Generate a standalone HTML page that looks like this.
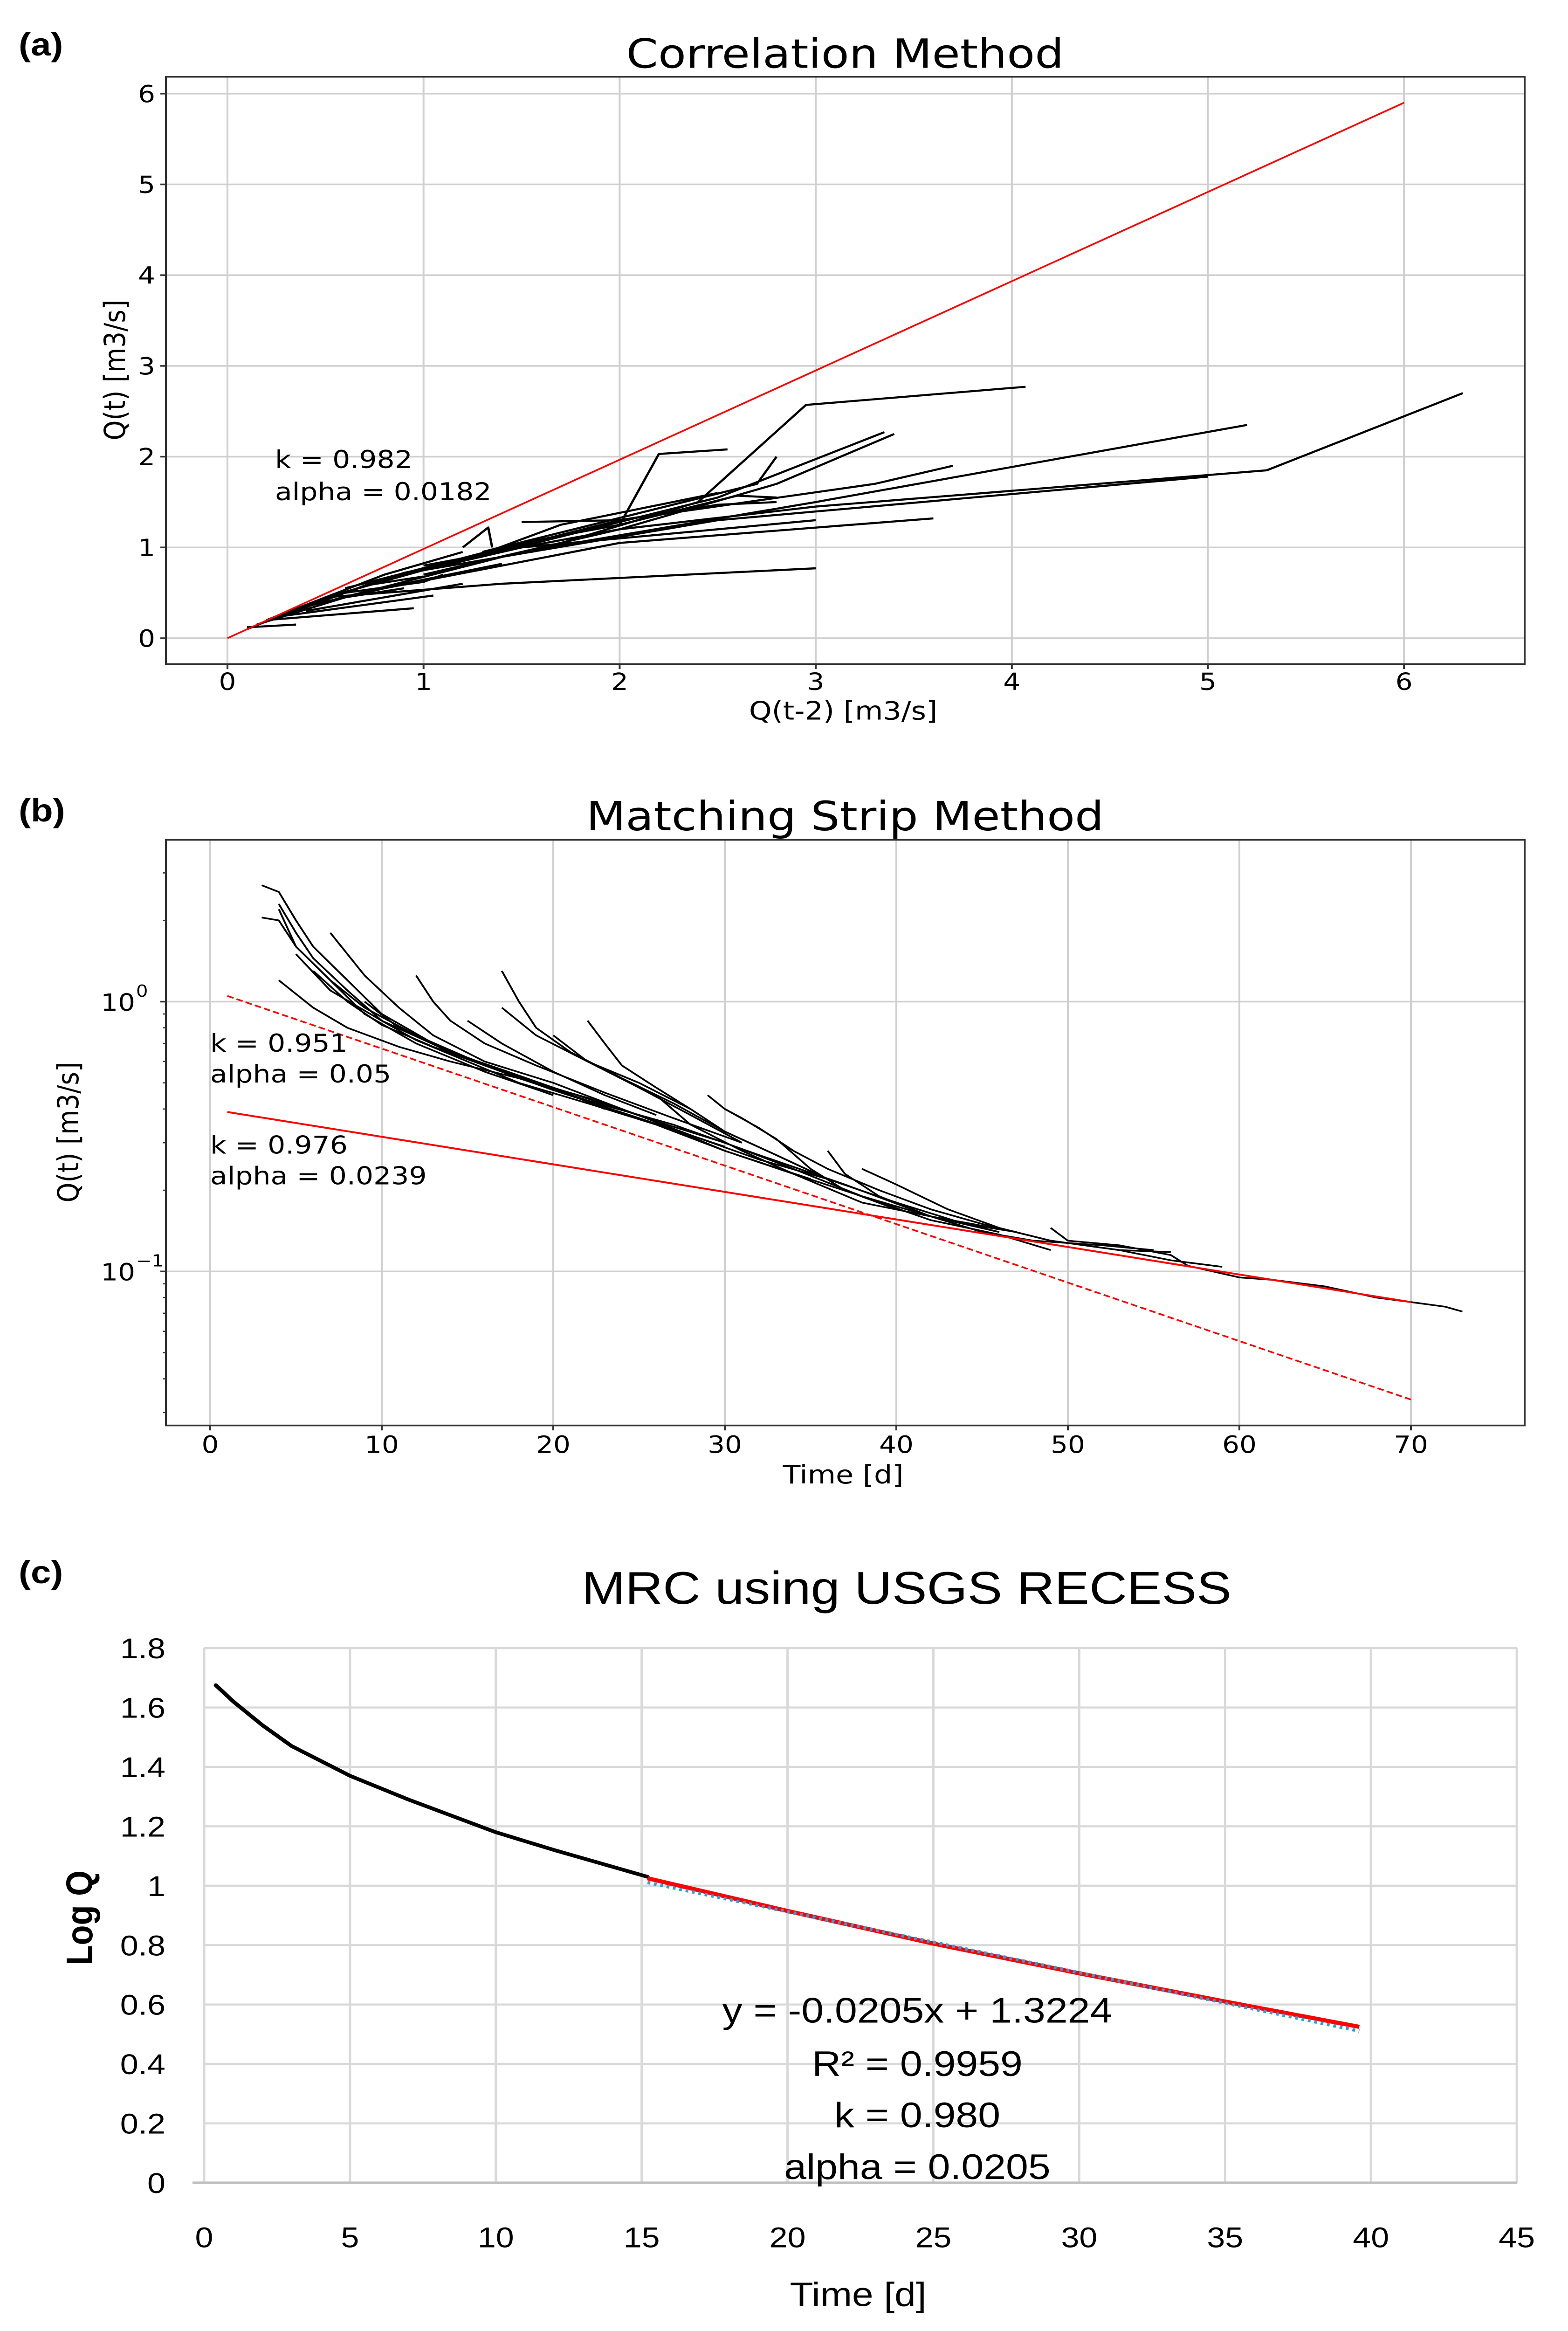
<!DOCTYPE html>
<html><head><meta charset="utf-8">
<style>
html,body{margin:0;padding:0;background:#fff;width:100%;height:100%;overflow:hidden;}
svg{display:block;position:absolute;left:0;top:0;width:100vw;height:100vh;}
text{font-family:"DejaVu Sans","Liberation Sans",sans-serif;fill:#000;}
.cal{font-family:"Liberation Sans",sans-serif;}
</style></head>
<body>
<svg id="fig" viewBox="0 0 3364 5676" preserveAspectRatio="none" xmlns="http://www.w3.org/2000/svg">
<rect width="3364" height="5676" fill="#fff"/>
<g id="pa"></g>
<g id="pb"></g>
<g id="pc"></g>
</svg>
<script>
// ---------- Panel (a) data ----------
const aXTicks = [0,1,2,3,4,5,6];
const aYTicks = [0,1,2,3,4,5,6];
const aFitLine = [[0,0],[6,5.9]];
const aSegments = [
 [[0.1,0.1],[0.5,0.45],[1,0.75],[1.5,1.0],[2.0,1.1],[3.0,1.3]],
 [[2.0,1.25],[2.2,2.03],[2.55,2.08]],
 [[1.55,0.95],[2.4,1.5],[2.95,2.57],[4.07,2.77]],
 [[1.0,0.7],[2.0,1.2],[2.8,1.7],[3.4,2.25]],
 [[1.2,0.85],[2.5,1.55],[3.35,2.27]],
 [[1.3,0.95],[2.7,1.7],[2.8,2.0]],
 [[0.8,0.65],[2.0,1.3],[3.3,1.7],[3.7,1.9]],
 [[1.0,0.8],[2.0,1.2],[3.0,1.45],[5.3,1.85],[6.3,2.7]],
 [[0.5,0.4],[1.5,0.95],[3.0,1.5],[5.2,2.35]],
 [[1.0,0.75],[2.5,1.3],[5.0,1.78]],
 [[0.8,0.55],[2.0,1.05],[3.6,1.32]],
 [[0.5,0.45],[1.4,0.6],[3.0,0.77]],
 [[0.2,0.2],[0.95,0.33]],
 [[0.1,0.12],[0.35,0.15]],
 [[0.3,0.25],[1.05,0.47]],
 [[0.4,0.3],[1.2,0.6]],
 [[1.5,1.28],[2.0,1.3],[2.5,1.47],[2.8,1.5]],
 [[1.2,1.0],[1.33,1.22],[1.35,1.0]],
 [[0.6,0.55],[1.5,1.05],[2.0,1.25],[2.6,1.57],[2.8,1.55]],
 [[0.7,0.6],[1.2,0.85],[1.7,1.25],[2.5,1.6]],
 [[0.2,0.2],[0.8,0.7],[1.2,0.95]],
 [[0.3,0.28],[0.9,0.72],[1.3,0.9]],
 [[0.4,0.35],[0.9,0.6],[1.4,0.82]],
 [[0.25,0.22],[0.7,0.58],[1.0,0.68]],
 [[0.6,0.5],[1.0,0.62],[1.1,0.7]],
 [[0.15,0.15],[0.6,0.45],[0.9,0.55]]
];
// ---------- Panel (b) data ----------
const bXTicks = [0,10,20,30,40,50,60,70];
const bDashedFit = [[1,1.05],[70,0.0335]];
const bSolidFit = [[1,0.39],[70,0.077]];
const bCurves = [
 [[3,2.7],[4,2.55],[5,2.0],[6,1.6],[8,1.2],[10,0.9],[13,0.7],[16,0.58],[20,0.48],[25,0.38],[30,0.28],[35,0.22]],
 [[3,2.05],[4,2.0],[5,1.6],[7,1.2],[9,0.9],[12,0.7],[16,0.55],[20,0.45]],
 [[4,2.3],[5,1.8],[6,1.45],[8,1.1],[10,0.85],[12,0.72],[15,0.6],[18,0.5],[22,0.42],[26,0.35],[30,0.28],[34,0.23],[38,0.19],[42,0.16],[46,0.14]],
 [[4,2.2],[5,1.6],[7,1.2],[9,0.95],[12,0.75],[15,0.62],[20,0.47],[25,0.37],[30,0.29]],
 [[4,1.2],[6,0.95],[8,0.8],[11,0.68],[14,0.6],[18,0.52],[22,0.43],[27,0.35],[32,0.27],[37,0.21],[42,0.16],[47,0.14]],
 [[7,1.8],[9,1.25],[11,0.95],[13,0.75],[16,0.6],[20,0.5],[24,0.4],[28,0.32],[32,0.26],[36,0.22],[40,0.18]],
 [[6,1.3],[8,1.0],[10,0.82],[13,0.68],[17,0.55],[20,0.47]],
 [[12,1.25],[13,1.0],[14,0.85],[16,0.7],[19,0.58],[23,0.46],[27,0.37],[31,0.3]],
 [[17,1.3],[18,1.0],[19,0.8],[21,0.65],[24,0.52],[27,0.42],[30,0.33],[33,0.27],[36,0.22],[40,0.18],[44,0.15],[47,0.14]],
 [[17,0.95],[19,0.75],[22,0.6],[25,0.48],[28,0.38],[31,0.3]],
 [[15,0.85],[17,0.7],[20,0.55],[23,0.45],[26,0.38]],
 [[22,0.85],[23,0.7],[24,0.58],[26,0.48],[28,0.4],[30,0.33],[33,0.27],[36,0.22]],
 [[20,0.75],[22,0.6],[25,0.5],[28,0.4]],
 [[29,0.45],[30,0.4],[32,0.34],[34,0.28],[36,0.24],[39,0.2],[42,0.17],[45,0.15],[49,0.13],[53,0.12],[56,0.118]],
 [[30,0.4],[31,0.37],[33,0.31],[35,0.24],[37,0.2],[40,0.17]],
 [[36,0.28],[37,0.23],[39,0.19],[42,0.16],[45,0.14],[48,0.13],[52,0.125],[55,0.12]],
 [[38,0.24],[40,0.21],[43,0.17],[46,0.145],[49,0.13],[53,0.12],[56,0.11],[59,0.104]],
 [[49,0.145],[50,0.13],[53,0.125],[56,0.115],[57,0.105],[60,0.095],[62,0.093],[65,0.088],[68,0.08],[70,0.077],[72,0.074],[73,0.071]],
 [[26,0.45],[28,0.35],[31,0.28],[34,0.23],[38,0.18],[42,0.16],[46,0.14]],
 [[5,1.5],[7,1.1],[10,0.85],[14,0.65],[18,0.52],[22,0.44],[26,0.36],[30,0.3],[34,0.24],[38,0.19],[42,0.155],[46,0.137],[49,0.12]],
 [[9,1.0],[11,0.8],[14,0.65],[17,0.56],[20,0.48],[23,0.4]]
];
// ---------- Panel (c) data ----------
const cXTicks = [0,5,10,15,20,25,30,35,40,45];
const cYTicks = [0,0.2,0.4,0.6,0.8,1,1.2,1.4,1.6,1.8];
const cYTickLabels = ["0","0.2","0.4","0.6","0.8","1","1.2","1.4","1.6","1.8"];
const cMrcCurve = [[0.4,1.675],[1,1.62],[2,1.54],[3,1.47],[5,1.37],[7,1.29],[10,1.18],[12,1.12],[15.2,1.03]];
const cFitCurve = [[15.2,1.025],[20,0.915],[25,0.805],[30,0.705],[35,0.61],[39.6,0.525]];
const cTrendSlope = -0.0205;
const cTrendIntercept = 1.3224;
const cTrendRange = [15.2,39.6];

const NS="http://www.w3.org/2000/svg";
function mk(parent,tag,attrs,txt){const e=document.createElementNS(NS,tag);for(const k in attrs)e.setAttribute(k,attrs[k]);if(txt!==undefined)e.textContent=txt;parent.appendChild(e);return e;}
function pathD(pts,fx,fy){return pts.map((p,i)=>(i?'L':'M')+fx(p[0]).toFixed(1)+' '+fy(p[1]).toFixed(1)).join(' ');}

// ===== Panel A =====
(function(){
 const g=document.getElementById('pa');
 const L=356,R=3271,T=187,B=1617;
 const x=v=>488+v*420.7, y=v=>1554-v*221;
 let t;
 t=mk(g,'text',{x:1813,y:165,'font-size':98,'text-anchor':'middle'},'Correlation Method');
 
 t=mk(g,'text',{x:40,y:135,'font-size':78,'font-weight':'bold',class:'cal'},'(a)');
 
 aXTicks.forEach(v=>{const l=mk(g,'line',{x1:x(v),x2:x(v),y1:T,y2:B,stroke:'#cfcfcf','stroke-width':4});
  
  mk(g,'line',{x1:x(v),x2:x(v),y1:B,y2:B+12,stroke:'#333','stroke-width':4});
  const tx=mk(g,'text',{x:x(v),y:1680,'font-size':58,'text-anchor':'middle'},String(v));
  });
 aYTicks.forEach(v=>{const l=mk(g,'line',{x1:L,x2:R,y1:y(v),y2:y(v),stroke:'#cfcfcf','stroke-width':4});
  
  mk(g,'line',{x1:L-12,x2:L,y1:y(v),y2:y(v),stroke:'#333','stroke-width':4});
  const tx=mk(g,'text',{x:333,y:y(v)+21,'font-size':58,'text-anchor':'end'},String(v));
  });
 aSegments.forEach(s=>{const p=mk(g,'path',{d:pathD(s,x,y),fill:'none',stroke:'#000','stroke-width':5,'stroke-linejoin':'round'});
  });
 const f=mk(g,'path',{d:pathD(aFitLine,x,y),fill:'none',stroke:'#ff0000','stroke-width':4});
 
 const fr=mk(g,'rect',{x:L,y:T,width:R-L,height:B-T,fill:'none',stroke:'#333','stroke-width':4});
 
 t=mk(g,'text',{x:590,y:1140,'font-size':60},'k = 0.982');
 t=mk(g,'text',{x:590,y:1218,'font-size':60},'alpha = 0.0182');
 t=mk(g,'text',{x:1809,y:1752,'font-size':62,'text-anchor':'middle'},'Q(t-2) [m3/s]');
 t=mk(g,'text',{x:0,y:0,'font-size':62,'text-anchor':'middle',transform:'translate(268,901) rotate(-90)'},'Q(t) [m3/s]');
})();

// ===== Panel B =====
(function(){
 const g=document.getElementById('pb');
 const L=356,R=3271,T=2045,B=3471;
 const x=v=>451+v*36.8, y=v=>2439-Math.log10(v)*657;
 let t;
 t=mk(g,'text',{x:1813,y:2022,'font-size':98,'text-anchor':'middle'},'Matching Strip Method');
 
 t=mk(g,'text',{x:40,y:2000,'font-size':78,'font-weight':'bold',class:'cal'},'(b)');
 
 bXTicks.forEach(v=>{const l=mk(g,'line',{x1:x(v),x2:x(v),y1:T,y2:B,stroke:'#cfcfcf','stroke-width':4});
  
  mk(g,'line',{x1:x(v),x2:x(v),y1:B,y2:B+12,stroke:'#333','stroke-width':4});
  const tx=mk(g,'text',{x:x(v),y:3538,'font-size':58,'text-anchor':'middle'},String(v));
  });
 [1,0.1].forEach((v,i)=>{const l=mk(g,'line',{x1:L,x2:R,y1:y(v),y2:y(v),stroke:'#cfcfcf','stroke-width':4});
  
  mk(g,'line',{x1:L-12,x2:L,y1:y(v),y2:y(v),stroke:'#333','stroke-width':4});
  const tx=mk(g,'text',{x:290,y:y(v)+22,'font-size':58,'text-anchor':'end'},'10');
  
  mk(g,'text',{x:292,y:y(v)-12,'font-size':40,'text-anchor':'start'},i===0?'0':'−1');});
 [0.03,0.04,0.05,0.06,0.07,0.08,0.09,0.2,0.3,0.4,0.5,0.6,0.7,0.8,0.9,2,3].forEach(v=>{
  if(y(v)>T&&y(v)<B) mk(g,'line',{x1:L-7,x2:L,y1:y(v),y2:y(v),stroke:'#333','stroke-width':3});});
 bCurves.forEach(s=>{const p=mk(g,'path',{d:pathD(s,x,y),fill:'none',stroke:'#000','stroke-width':4,'stroke-linejoin':'round'});
  });
 let f=mk(g,'path',{d:pathD(bDashedFit,x,y),fill:'none',stroke:'#ff0000','stroke-width':4,'stroke-dasharray':'14 7'});
 
 f=mk(g,'path',{d:pathD(bSolidFit,x,y),fill:'none',stroke:'#ff0000','stroke-width':4.5});
 
 const fr=mk(g,'rect',{x:L,y:T,width:R-L,height:B-T,fill:'none',stroke:'#333','stroke-width':4});
 
 [['k = 0.951',2561,'k-annotation-1'],['alpha = 0.05',2636,'alpha-annotation-1'],['k = 0.976',2809,'k-annotation-2'],['alpha = 0.0239',2884,'alpha-annotation-2']].forEach(a=>{
  t=mk(g,'text',{x:451,y:a[1],'font-size':60},a[0]);});
 t=mk(g,'text',{x:1809,y:3612,'font-size':62,'text-anchor':'middle'},'Time [d]');
 t=mk(g,'text',{x:0,y:0,'font-size':62,'text-anchor':'middle',transform:'translate(168,2757) rotate(-90)'},'Q(t) [m3/s]');
})();

// ===== Panel C =====
(function(){
 const g=document.getElementById('pc');
 const x=v=>438+v*62.58, y=v=>5315-v*723.3;
 const L=x(0),R=x(45),T=y(1.8),B=y(0);
 let t;
 t=mk(g,'text',{x:1945,y:3905,'font-size':112,'text-anchor':'middle',class:'cal'},'MRC using USGS RECESS');
 
 t=mk(g,'text',{x:40,y:3855,'font-size':78,'font-weight':'bold',class:'cal'},'(c)');
 
 cXTicks.forEach(v=>{const l=mk(g,'line',{x1:x(v),x2:x(v),y1:T,y2:B,stroke:'#d9d9d9','stroke-width':5});
  
  const tx=mk(g,'text',{x:x(v),y:5472,'font-size':70,'text-anchor':'middle',class:'cal'},String(v));
  });
 cYTicks.forEach((v,i)=>{const l=mk(g,'line',{x1:L,x2:R,y1:y(v),y2:y(v),stroke:'#d9d9d9','stroke-width':5});
  
  const tx=mk(g,'text',{x:355,y:y(v)+25,'font-size':70,'text-anchor':'end',class:'cal'},cYTickLabels[i]);
  });
 mk(g,'line',{x1:L-25,x2:R,y1:B,y2:B,stroke:'#bfbfbf','stroke-width':6});
 let p=mk(g,'path',{d:pathD(cMrcCurve,x,y),fill:'none',stroke:'#000','stroke-width':9,'stroke-linecap':'round'});
 
 p=mk(g,'path',{d:pathD(cFitCurve,x,y),fill:'none',stroke:'#ff0000','stroke-width':10});
 
 const trend=cTrendRange.map(v=>[v,cTrendSlope*v+cTrendIntercept]);
 p=mk(g,'path',{d:pathD(trend,x,y),fill:'none',stroke:'#2e9fdc','stroke-width':8,'stroke-dasharray':'6 8'});
 
 [['y = -0.0205x + 1.3224',4925,'trend-equation'],['R² = 0.9959',5055,'r-squared'],['k = 0.980',5180,'k-annotation'],['alpha = 0.0205',5306,'alpha-annotation']].forEach(a=>{
  t=mk(g,'text',{x:1968,y:a[1],'font-size':86,'text-anchor':'middle',class:'cal'},a[0]);});
 t=mk(g,'text',{x:1841,y:5615,'font-size':82,'text-anchor':'middle',class:'cal'},'Time [d]');
 t=mk(g,'text',{x:0,y:0,'font-size':80,'text-anchor':'middle',class:'cal','font-weight':'bold',transform:'translate(198,4670) rotate(-90)'},'Log Q');
})();
</script>
</body></html>
